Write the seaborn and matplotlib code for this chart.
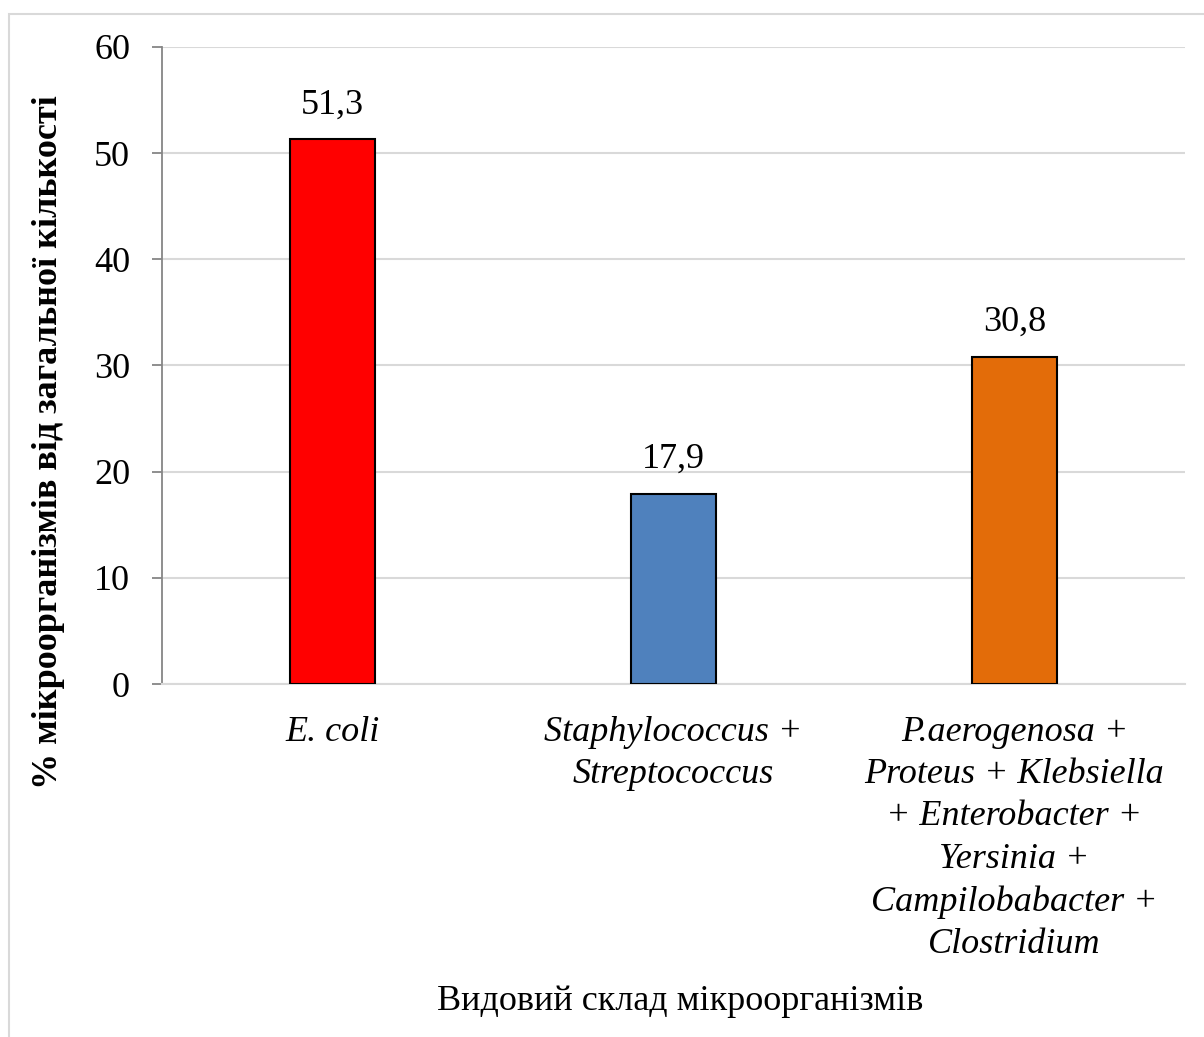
import matplotlib
matplotlib.use("Agg")
import matplotlib.pyplot as plt
from matplotlib.patches import Rectangle
import seaborn as sns
import pandas as pd

# Species composition of isolated microorganisms, % of total
categories = [
    "E. coli",
    "Staphylococcus +\nStreptococcus",
    "P.aerogenosa +\nProteus + Klebsiella\n+ Enterobacter +\nYersinia +\nCampilobabacter +\nClostridium",
]
shares = [51.3, 17.9, 30.8]
bar_colors = ["#FF0000", "#4F81BD", "#E36C09"]
y_ticks = [0, 10, 20, 30, 40, 50, 60]

sns.set_theme(style="white")
plt.rcParams["font.family"] = ["Liberation Serif", "DejaVu Serif"]
plt.rcParams["text.color"] = "black"
plt.rcParams["axes.labelcolor"] = "black"
plt.rcParams["xtick.color"] = "black"
plt.rcParams["ytick.color"] = "black"

df = pd.DataFrame({"group": categories, "share": shares})

fig = plt.figure(figsize=(12.04, 10.37), dpi=100)
ax = fig.add_axes([0.1346, 0.3404, 0.8496, 0.6143])

sns.barplot(data=df, x="group", y="share", hue="group", palette=bar_colors,
            legend=False, width=0.25, edgecolor="black", linewidth=1.5,
            saturation=1, ax=ax, zorder=3)

ax.set_ylim(0, 60)
ax.set_yticks(y_ticks)
ax.yaxis.grid(True, color="#D9D9D9", linewidth=1.5, zorder=0)
ax.xaxis.grid(False)

for side in ["top", "right"]:
    ax.spines[side].set_visible(False)
ax.spines["bottom"].set_color("#D9D9D9")
ax.spines["bottom"].set_linewidth(1.5)
ax.spines["left"].set_color("#868686")
ax.spines["left"].set_linewidth(1.3)

ax.tick_params(axis="y", which="major", direction="out", length=7, width=1.3,
               color="#868686", labelcolor="black", pad=16, labelsize=26,
               left=True)
ax.tick_params(axis="x", length=0, pad=23, labelcolor="black")
for lbl in ax.get_xticklabels():
    lbl.set_fontsize(26)
    lbl.set_fontstyle("italic")
    lbl.set_linespacing(1.37)
    lbl.set_verticalalignment("top")

for container in ax.containers:
    ax.bar_label(container,
                 labels=[f"{v:.1f}".replace(".", ",") for v in container.datavalues],
                 padding=13, fontsize=26, color="black")

ax.set_xlabel("Видовий склад мікроорганізмів", fontsize=26, color="black")
ax.xaxis.set_label_coords(0.507, -0.473)
ax.set_ylabel("% мікроорганізмів від загальної кількості", fontsize=26,
              fontweight="bold", color="black")
ax.yaxis.set_label_coords(-0.0945, 0.38)

# outer chart frame
fig.patches.append(Rectangle((8.5 / 1204, -0.1), 1.2, 1.1 - 13.5 / 1037,
                             transform=fig.transFigure, fill=False,
                             edgecolor="#D9D9D9", linewidth=1.5))

fig.savefig("out.png", dpi=100, facecolor="white")
